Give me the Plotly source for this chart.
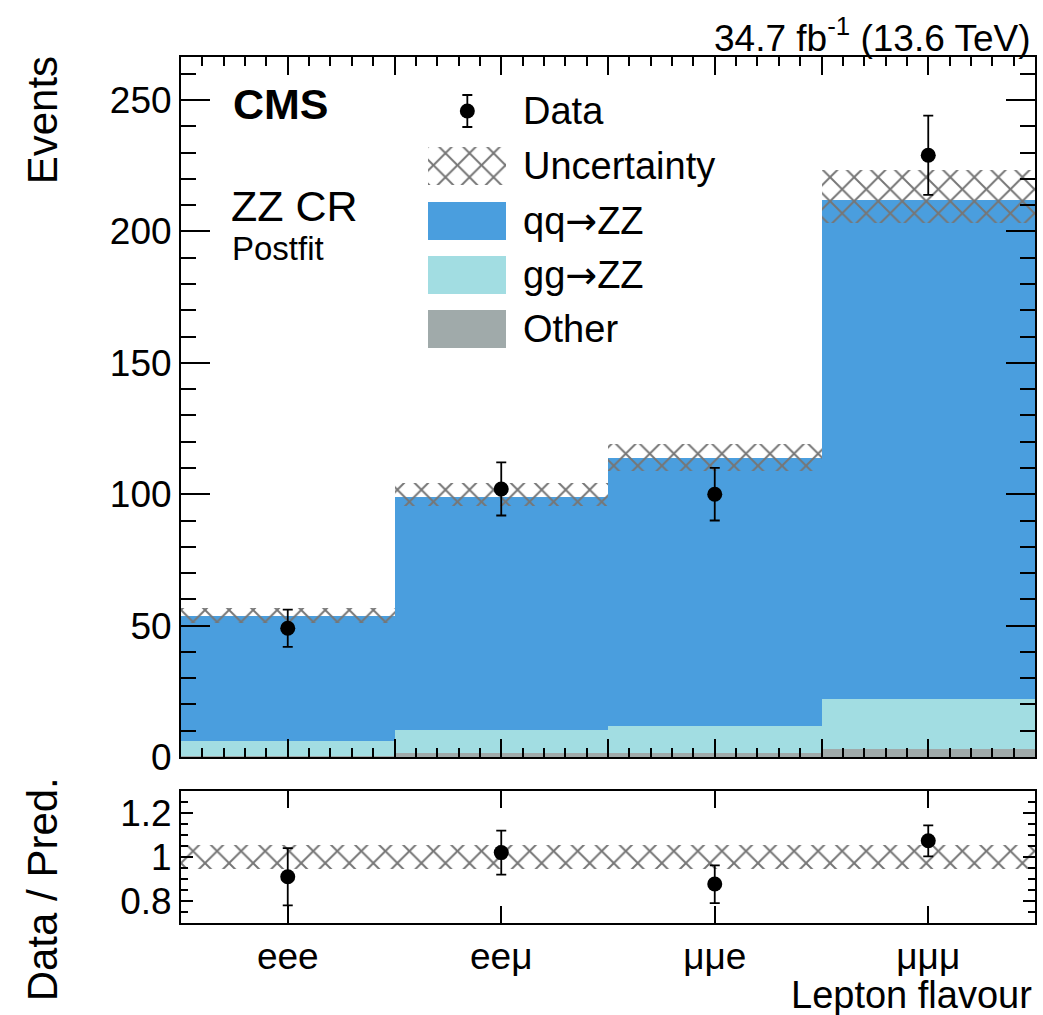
import plotly.graph_objects as go

# ---------------- data ----------------
categories = ["eee", "ee\u03bc", "\u03bc\u03bce", "\u03bc\u03bc\u03bc"]
bin_centers = [0.5, 1.5, 2.5, 3.5]
other = [0.5, 1.4, 1.4, 3.0]
gg_zz = [5.5, 8.9, 10.5, 19.2]
qq_zz = [47.7, 88.7, 101.8, 189.8]
unc_low = [51.0, 95.5, 109.0, 203.1]
unc_high = [56.7, 104.4, 119.1, 223.4]
data_vals = [49, 102, 100, 229]
data_err = [7.1, 10.1, 10.0, 15.1]
ratio_vals = [0.91, 1.02, 0.877, 1.074]
ratio_err_up = [0.13, 0.10, 0.085, 0.07]
ratio_err_dn = [0.13, 0.10, 0.087, 0.071]
ratio_unc = [0.053, 0.053, 0.053, 0.053]

FONT = "Liberation Sans"
C_QQ = "rgb(74,158,222)"
C_GG = "rgb(162,221,226)"
C_OT = "rgb(160,170,170)"
C_HATCH = "rgb(118,118,118)"
HATCH = dict(shape="x", size=17, solidity=0.22, fillmode="replace")
ARROW = '<span style="font-family:DejaVu Sans">\u2192</span>'

# stacked bases
base_gg = other
base_qq = [o + g for o, g in zip(other, gg_zz)]

fig = go.Figure()

fig.add_trace(go.Bar(x=bin_centers, y=other, base=[0] * 4, width=1,
                     marker=dict(color=C_OT, line=dict(width=0)),
                     xaxis="x", yaxis="y", showlegend=False))
fig.add_trace(go.Bar(x=bin_centers, y=gg_zz, base=base_gg, width=1,
                     marker=dict(color=C_GG, line=dict(width=0)),
                     xaxis="x", yaxis="y", showlegend=False))
fig.add_trace(go.Bar(x=bin_centers, y=qq_zz, base=base_qq, width=1,
                     marker=dict(color=C_QQ, line=dict(width=0)),
                     xaxis="x", yaxis="y", showlegend=False))
fig.add_trace(go.Bar(x=bin_centers, y=[h - l for h, l in zip(unc_high, unc_low)],
                     base=unc_low, width=1,
                     marker=dict(color=C_HATCH, line=dict(width=0), pattern=HATCH),
                     xaxis="x", yaxis="y", showlegend=False))
fig.add_trace(go.Scatter(x=bin_centers, y=data_vals, mode="markers",
                         marker=dict(color="black", size=15),
                         error_y=dict(type="data", array=data_err, color="black",
                                      thickness=1.8, width=5),
                         xaxis="x", yaxis="y", showlegend=False))

# ratio panel
fig.add_trace(go.Bar(x=bin_centers, y=[2 * u for u in ratio_unc],
                     base=[1 - u for u in ratio_unc], width=1,
                     marker=dict(color=C_HATCH, line=dict(width=0), pattern=HATCH),
                     xaxis="x2", yaxis="y2", showlegend=False))
fig.add_trace(go.Scatter(x=bin_centers, y=ratio_vals, mode="markers",
                         marker=dict(color="black", size=15),
                         error_y=dict(type="data", array=ratio_err_up,
                                      arrayminus=ratio_err_dn, color="black",
                                      thickness=1.8, width=5),
                         xaxis="x2", yaxis="y2", showlegend=False))

# -------------- manual legend (pixel-unit helper axes overlaying main) --------------
leg_x0, leg_x1 = 429, 507
leg_text_x = 522
leg_rows = [("Data", 111), ("Uncertainty", 166), ("qq" + ARROW + "ZZ", 221),
            ("gg" + ARROW + "ZZ", 275), ("Other", 329)]
sw_h = 38
fig.add_trace(go.Scatter(x=[(leg_x0 + leg_x1) / 2], y=[leg_rows[0][1]], mode="markers",
                         marker=dict(color="black", size=15),
                         error_y=dict(type="constant", value=16, color="black",
                                      thickness=1.8, width=5),
                         xaxis="x3", yaxis="y3", showlegend=False))
for (name, yc), col, pat in [(leg_rows[1], C_HATCH, True), (leg_rows[2], C_QQ, False),
                             (leg_rows[3], C_GG, False), (leg_rows[4], C_OT, False)]:
    mk = dict(color=col, line=dict(width=0))
    if pat:
        mk["pattern"] = HATCH
    fig.add_trace(go.Bar(x=[(leg_x0 + leg_x1) / 2], y=[sw_h], base=[yc - sw_h / 2],
                         width=leg_x1 - leg_x0, marker=mk,
                         xaxis="x3", yaxis="y3", showlegend=False))

annotations = []
for name, yc in leg_rows:
    annotations.append(dict(text=name, x=leg_text_x, y=yc, xref="x3", yref="y3",
                            xanchor="left", yanchor="middle", showarrow=False,
                            font=dict(family=FONT, size=38, color="black")))

top_px, bot_px = 57, 923
H = bot_px - top_px
def py(p):
    return (bot_px - p) / H
L, R = 181, 1037
W = R - L
def px(p):
    return (p - L) / W

annotations += [
    dict(text="<b>CMS</b>", x=px(231), y=py(104), xref="paper", yref="paper",
         xanchor="left", yanchor="middle", showarrow=False,
         font=dict(family=FONT, size=43, color="black")),
    dict(text="ZZ CR", x=px(229), y=py(206), xref="paper", yref="paper",
         xanchor="left", yanchor="middle", showarrow=False,
         font=dict(family=FONT, size=43, color="black")),
    dict(text="Postfit", x=px(230), y=py(248), xref="paper", yref="paper",
         xanchor="left", yanchor="middle", showarrow=False,
         font=dict(family=FONT, size=33, color="black")),
    dict(text="34.7 fb<sup>-1</sup> (13.6 TeV)", x=px(1035), y=py(36), xref="paper",
         yref="paper", xanchor="right", yanchor="middle", showarrow=False,
         font=dict(family=FONT, size=37, color="black")),
    dict(text="Events", x=px(42), y=py(54), xref="paper", yref="paper",
         xanchor="center", yanchor="top", textangle=-90, showarrow=False,
         font=dict(family=FONT, size=42, color="black")),
    dict(text="Data / Pred.", x=px(42), y=py(1003), xref="paper", yref="paper",
         xanchor="center", yanchor="bottom", textangle=-90, showarrow=False,
         font=dict(family=FONT, size=42, color="black")),
    dict(text="Lepton flavour", x=px(1036), y=py(995), xref="paper", yref="paper",
         xanchor="right", yanchor="middle", showarrow=False,
         font=dict(family=FONT, size=38, color="black")),
]

main_dom = [(bot_px - 757) / H, 1.0]
ratio_dom = [0.0, (bot_px - 791) / H]

axis_common = dict(showgrid=False, zeroline=False, showline=True, linecolor="black",
                   linewidth=2, mirror="allticks", ticks="inside", tickcolor="black",
                   tickwidth=1.8, tickfont=dict(family=FONT, size=37, color="black"))

fig.update_layout(
    width=1043, height=1015,
    margin=dict(l=L, r=1043 - R, t=top_px, b=1015 - bot_px),
    paper_bgcolor="white", plot_bgcolor="rgba(0,0,0,0)",
    barmode="overlay", bargap=0, showlegend=False,
    xaxis=dict(**axis_common, domain=[0, 1], anchor="y", range=[0, 4],
               tick0=0, dtick=0.5, ticklen=18, showticklabels=False,
               minor=dict(dtick=0.1, ticklen=9, ticks="inside", tickcolor="black",
                          tickwidth=1.5)),
    yaxis=dict(**axis_common, domain=main_dom, anchor="x", range=[0, 266.4],
               tick0=0, dtick=50, ticklen=29,
               minor=dict(dtick=10, ticklen=15, ticks="inside", tickcolor="black",
                          tickwidth=1.5)),
    xaxis2=dict(**axis_common, domain=[0, 1], anchor="y2", range=[0, 4],
                matches="x", tickvals=bin_centers, ticktext=categories, ticklen=17),
    yaxis2=dict(**axis_common, domain=ratio_dom, anchor="x2", range=[0.70, 1.30],
                tickvals=[0.8, 1.0, 1.2], ticktext=["0.8", "1", "1.2"], ticklen=12,
                minor=dict(dtick=0.05, tick0=0, ticklen=7, ticks="inside",
                           tickcolor="black", tickwidth=1.5)),
    xaxis3=dict(overlaying="x", anchor="y3", range=[L, R], visible=False,
                fixedrange=True),
    yaxis3=dict(overlaying="y", anchor="x3", range=[757, 57], visible=False,
                fixedrange=True),
    annotations=annotations,
)

fig.write_html("out.html")
